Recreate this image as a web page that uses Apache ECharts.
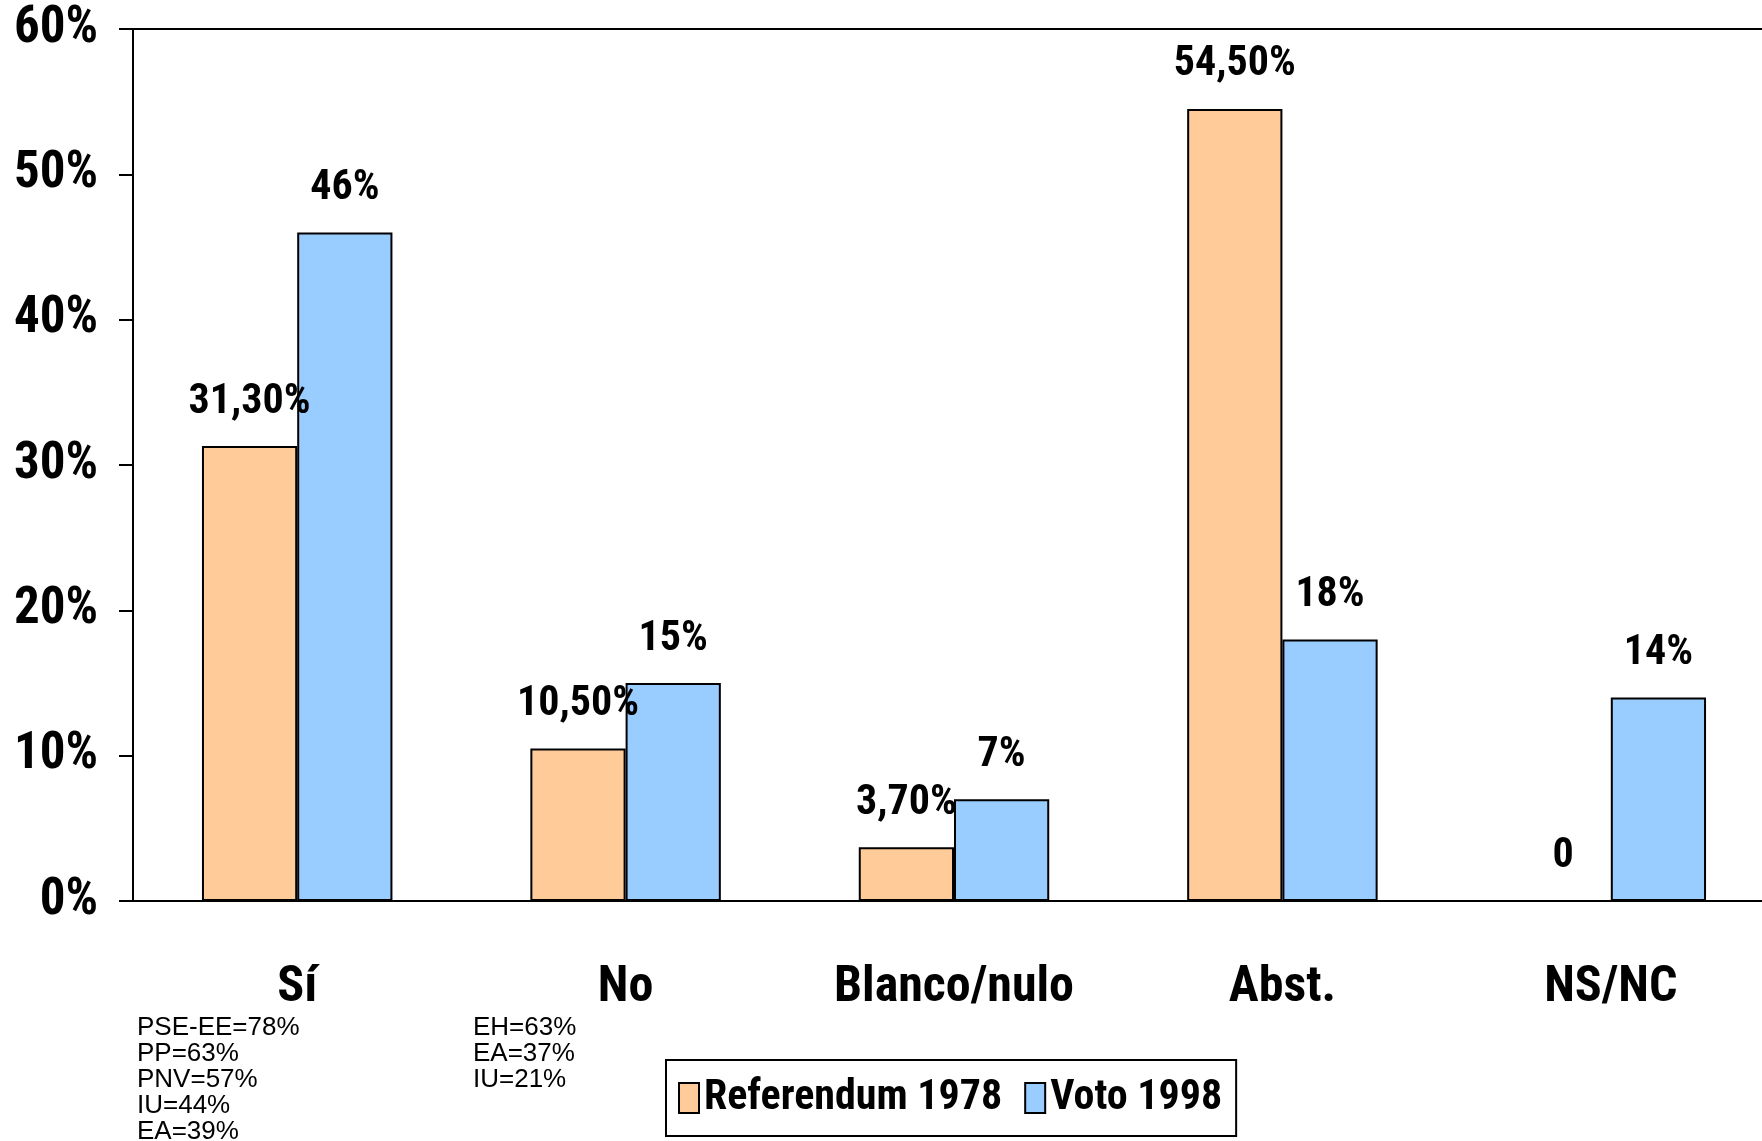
<!DOCTYPE html>
<html>
<head>
<meta charset="utf-8">
<script src="https://cdn.jsdelivr.net/npm/echarts@6/dist/echarts.min.js"></script>
<style>
  html, body { margin: 0; padding: 0; background: #fff; overflow: hidden; }
  #chart { width: 1762px; height: 1141px; }
</style>
</head>
<body>
<div id="chart"></div>
<script>
  const categories = ['Sí', 'No', 'Blanco/nulo', 'Abst.', 'NS/NC']
  const referendum1978 = [31.3, 10.5, 3.7, 54.5, 0]
  const voto1998 = [46, 15, 7, 18, 14]
  const labels1978 = ['31,30%', '10,50%', '3,70%', '54,50%', '0']
  const labels1998 = ['46%', '15%', '7%', '18%', '14%']
  const yTicks = [0, 10, 20, 30, 40, 50, 60]
  const siNotes = ['PSE-EE=78%', 'PP=63%', 'PNV=57%', 'IU=44%', 'EA=39%']
  const noNotes = ['EH=63%', 'EA=37%', 'IU=21%']

  const narrow = "'Roboto Condensed', 'Liberation Sans Narrow', 'Arial Narrow', sans-serif"
  const plain = "'Liberation Sans', Arial, sans-serif"

  let myChart = echarts.init(document.getElementById('chart'))

  let barLabel = (texts) => ({
    show: true,
    position: 'top',
    distance: 23,
    color: '#000',
    fontFamily: narrow,
    fontWeight: 'bold',
    fontSize: 42,
    formatter: (p) => texts[p.dataIndex]
  })

  let option = {
    animation: false,
    backgroundColor: '#fff',
    grid: {
      left: 133,
      top: 29,
      bottom: 240,
      right: -13,
      outerBoundsMode: 'none',
      containLabel: false,
      show: true,
      borderColor: '#000',
      borderWidth: 2
    },
    legend: {
      data: ['Referendum 1978', 'Voto 1998'],
      left: 666,
      top: 1060,
      padding: [17, 14, 17, 12],
      itemGap: 22,
      itemWidth: 20,
      itemHeight: 30,
      icon: 'rect',
      borderColor: '#000',
      borderWidth: 2,
      textStyle: { color: '#000', fontFamily: narrow, fontWeight: 'bold', fontSize: 42 }
    },
    xAxis: {
      type: 'category',
      data: categories,
      axisLine: { lineStyle: { color: '#000', width: 2 } },
      axisTick: { length: 16, lineStyle: { color: '#000', width: 2 } },
      axisLabel: {
        interval: 0,
        margin: 62,
        color: '#000',
        fontFamily: narrow,
        fontWeight: 'bold',
        fontSize: 50
      }
    },
    yAxis: {
      type: 'value',
      min: yTicks[0],
      max: yTicks[yTicks.length - 1],
      interval: 10,
      splitLine: { show: false },
      axisLine: { show: true, lineStyle: { color: '#000', width: 2 } },
      axisTick: { show: true, length: 14, lineStyle: { color: '#000', width: 2 } },
      axisLabel: {
        margin: 35,
        color: '#000',
        fontFamily: narrow,
        fontWeight: 'bold',
        fontSize: 51,
        formatter: '{value}%'
      }
    },
    series: [
      {
        name: 'Referendum 1978',
        type: 'bar',
        data: referendum1978,
        barGap: '0%',
        barCategoryGap: '42%',
        itemStyle: { color: '#FFCC99', borderColor: '#000', borderWidth: 2 },
        label: barLabel(labels1978)
      },
      {
        name: 'Voto 1998',
        type: 'bar',
        data: voto1998,
        barGap: '0%',
        barCategoryGap: '42%',
        itemStyle: { color: '#99CCFF', borderColor: '#000', borderWidth: 2 },
        label: barLabel(labels1998)
      }
    ],
    graphic: [
      {
        type: 'text',
        left: 137,
        top: 1015,
        style: { text: siNotes.join('\n'), font: '26px ' + plain, lineHeight: 26, fill: '#000' }
      },
      {
        type: 'text',
        left: 473,
        top: 1015,
        style: { text: noNotes.join('\n'), font: '26px ' + plain, lineHeight: 26, fill: '#000' }
      }
    ]
  }
  myChart.setOption(option)
</script>
</body>
</html>
